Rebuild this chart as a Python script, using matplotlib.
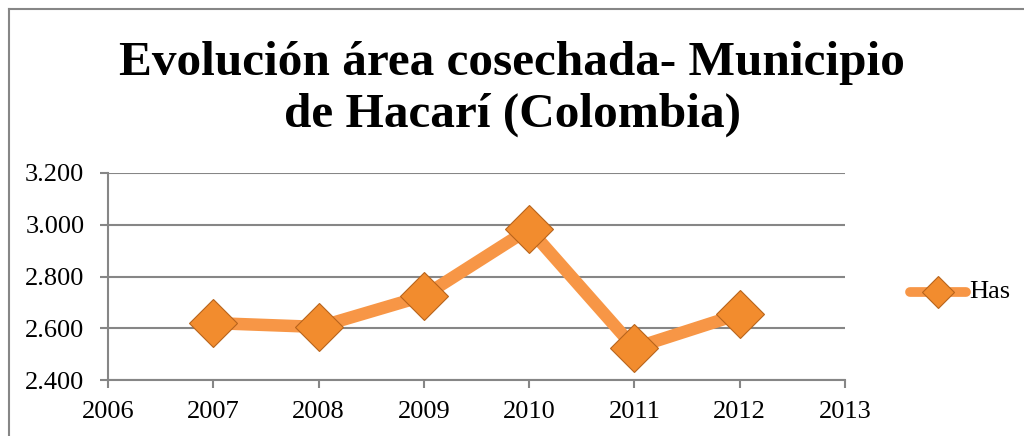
import matplotlib
matplotlib.use("Agg")
import matplotlib.pyplot as plt
from matplotlib.ticker import FuncFormatter

years = [2007, 2008, 2009, 2010, 2011, 2012]
has = [2620, 2605, 2725, 2984, 2524, 2655]
series_label = "Has"
title = "Evolución área cosechada- Municipio\nde Hacarí (Colombia)"

plt.rcParams['font.family'] = ['Liberation Serif', 'DejaVu Serif']

fig = plt.figure(figsize=(10.24, 4.36), dpi=100)
ax = fig.add_axes([108/1024, 1 - 380/436, (845-108)/1024, (380-173)/436])

line_color = '#F79646'
mfc, mec = '#F28C2E', '#B8641C'
ax.plot(years, has, color=line_color, lw=9, solid_capstyle='butt', zorder=3)
ax.plot(years, has, ls='none', marker='D', ms=24, mfc=mfc, mec=mec, mew=0.8, zorder=4)

ax.set_xlim(2006, 2013)
ax.set_ylim(2400, 3200)
ax.set_xticks(range(2006, 2014))
ax.set_yticks([2400, 2600, 2800, 3000, 3200])
ax.yaxis.set_major_formatter(FuncFormatter(lambda v, p: f"{v/1000:.3f}"))
ax.grid(axis='y', color='#868686', lw=1.5)
ax.set_axisbelow(True)
for s in ['top', 'right']:
    ax.spines[s].set_visible(False)
for s in ['left', 'bottom']:
    ax.spines[s].set_color('#868686')
    ax.spines[s].set_linewidth(1.5)
ax.tick_params(axis='both', direction='out', length=6, width=1.5, color='#868686',
               labelsize=19, labelcolor='black')
ax.tick_params(axis='x', pad=9)
ax.tick_params(axis='y', pad=11)

fig.text(0.5, 1 - 89/436, title, ha='center', va='center', fontsize=35.5,
         fontweight='bold', linespacing=1.22)

# legend
lx0, lx1, ly = 910/1024, 966/1024, 1 - 292/436
fig.add_artist(plt.Line2D([lx0, lx1], [ly, ly], transform=fig.transFigure,
                          color=line_color, lw=7, solid_capstyle='round'))
fig.add_artist(plt.Line2D([(lx0+lx1)/2], [ly], transform=fig.transFigure,
                          ls='none', marker='D', ms=16, mfc=mfc, mec=mec, mew=0.8))
fig.text(969/1024, ly, series_label, ha='left', va='center', fontsize=19)

# outer chart frame (top and left edges visible)
fig.add_artist(plt.Line2D([9/1024, 1.0], [1 - 9/436, 1 - 9/436], transform=fig.transFigure,
                          color='#868686', lw=1.5))
fig.add_artist(plt.Line2D([9/1024, 9/1024], [0, 1 - 9/436], transform=fig.transFigure,
                          color='#868686', lw=1.5))

fig.savefig('out.png', dpi=100)
